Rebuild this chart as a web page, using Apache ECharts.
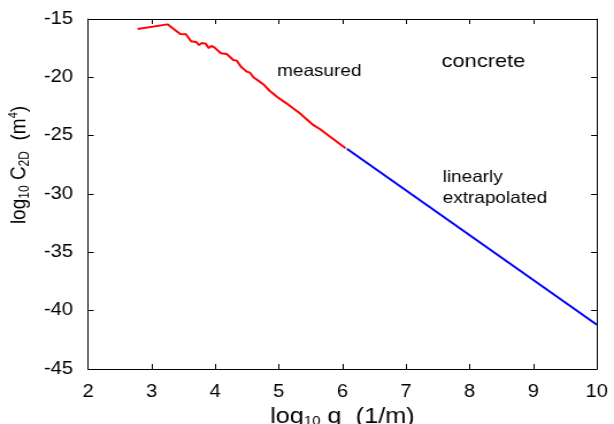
<!DOCTYPE html>
<html><head><meta charset="utf-8">
<script src="https://cdn.jsdelivr.net/npm/echarts@6/dist/echarts.min.js"></script>
<style>html,body{margin:0;padding:0;background:#fff;overflow:hidden}#c{width:534px;height:424px;transform:scaleX(1.1498);transform-origin:0 0}</style>
</head><body><div id="c"></div>
<script>
const measuredX = [2.78,3.25,3.45,3.54,3.62,3.70,3.745,3.79,3.85,3.90,3.94,3.985,4.09,4.18,4.285,4.34,4.405,4.495,4.547,4.60,4.70,4.77,4.86,4.97,5.12,5.33,5.54,5.65,5.86,6.05];
const measuredY = [-15.86,-15.46,-16.29,-16.30,-16.90,-16.97,-17.23,-17.06,-17.11,-17.50,-17.30,-17.43,-17.94,-18.00,-18.51,-18.57,-19.09,-19.51,-19.60,-20.00,-20.37,-20.66,-21.17,-21.66,-22.23,-23.08,-24.08,-24.45,-25.30,-26.08];
const extrapX = [6.07, 10];
const extrapY = [-26.12, -41.2];
const xTicks = [2,3,4,5,6,7,8,9,10];
const yTicks = [-45,-40,-35,-30,-25,-20,-15];

const zip = (a,b)=>a.map((v,i)=>[v,b[i]]);
const font = '"Liberation Sans", Arial, sans-serif';
const chart = echarts.init(document.getElementById('c'));
const common = {
  axisLine:{show:true,onZero:false,lineStyle:{color:'#000',width:1}},
  axisTick:{show:true,inside:true,length:5,lineStyle:{color:'#000'}},
  splitLine:{show:false}
};
chart.setOption({
  animation:false,
  textStyle:{fontFamily:font},
  grid:{left:76.5,right:14.9,top:19,bottom:55,containLabel:false,outerBoundsMode:'none'},
  xAxis:[
    Object.assign({type:'value',min:xTicks[0],max:xTicks[xTicks.length-1],interval:1,position:'bottom',
      axisLabel:{color:'#000',fontSize:17.5,margin:14,fontFamily:font},
      name:'{n|log}{s|10}{n| q  (1/m)}',nameLocation:'middle',nameGap:33,
      nameTextStyle:{rich:{n:{fontSize:22,color:'#000',fontFamily:font},s:{fontSize:13,color:'#000',verticalAlign:'bottom',padding:[9,0,0,0],fontFamily:font}}}
    },common),
    Object.assign({type:'value',min:xTicks[0],max:xTicks[xTicks.length-1],interval:1,position:'top',axisLabel:{show:false}},common)
  ],
  yAxis:[
    Object.assign({type:'value',min:yTicks[0],max:yTicks[yTicks.length-1],interval:5,position:'left',
      axisLabel:{color:'#000',fontSize:17.5,margin:13,fontFamily:font},
      name:'{n|log}{s|10}{n| C}{s|2D}{n|  (m}{p|4}{n|)}',nameLocation:'middle',nameGap:44,
      nameTextStyle:{padding:[0,0,0,58],rich:{n:{fontSize:19,color:'#000',fontFamily:font},s:{fontSize:12,color:'#000',verticalAlign:'bottom',padding:[9,0,0,0],fontFamily:font},p:{fontSize:11,color:'#000',verticalAlign:'top',padding:[0,0,9,0],fontFamily:font}}}
    },common),
    Object.assign({type:'value',min:yTicks[0],max:yTicks[yTicks.length-1],interval:5,position:'right',axisLabel:{show:false}},common)
  ],
  series:[
    {type:'line',data:zip(measuredX,measuredY),showSymbol:false,lineStyle:{color:'#ff0000',width:2},itemStyle:{color:'#ff0000'}},
    {type:'line',data:zip(extrapX,extrapY),showSymbol:false,lineStyle:{color:'#0000ff',width:2},itemStyle:{color:'#0000ff'}}
  ],
  graphic:[
    {type:'text',left:241,top:63,style:{text:'measured',fontSize:16.5,fill:'#000',fontFamily:font}},
    {type:'text',left:384,top:52,style:{text:'concrete',fontSize:19,fill:'#000',fontFamily:font}},
    {type:'text',left:385,top:167,style:{text:'linearly\nextrapolated',fontSize:16.5,lineHeight:21,fill:'#000',fontFamily:font}}
  ]
});
</script></body></html>
